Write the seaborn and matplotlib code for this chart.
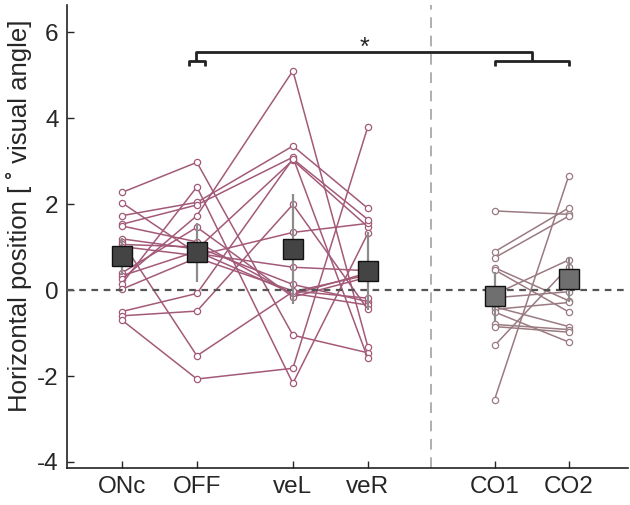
import matplotlib
matplotlib.use("Agg")
import matplotlib.pyplot as plt
import seaborn as sns
import pandas as pd

# conditions and per-subject values (deg visual angle)
conditions = ["ONc", "OFF", "veL", "veR", "CO1", "CO2"]
x_pos = [1, 2, 3.28, 4.28, 5.97, 6.96]

onc = [2.27, 2.03, 1.73, 1.53, 1.49, 1.19, 1.12, 1.06, 1.01, 0.40, 0.33, 0.25, 0.15, 0.02, -0.50, -0.60, -0.70]
off = [2.97, 0.85, 2.04, 1.98, 1.12, 0.95, -1.53, 1.00, 0.80, 1.46, 0.90, 1.73, 2.40, 0.75, -0.08, -0.49, -2.07]
vel = [-1.05, 0.53, 3.35, 3.09, -0.10, 3.02, -0.04, 0.13, 1.34, -0.16, -0.08, 5.10, -2.17, -0.02, 3.05, 1.99, -1.82]
ver = [-1.46, 0.45, 1.90, -1.59, 0.40, 1.47, 0.35, -0.27, 1.55, 0.30, -0.35, -1.32, 1.32, -0.19, 1.64, -0.45, 3.80]

co1 = [1.84, 0.89, 0.75, 0.52, 0.47, -0.10, -0.18, -0.39, -0.45, -0.51, -0.80, -0.85, -1.29, -2.55]
co2 = [1.76, 1.91, 1.72, -0.25, -0.51, 0.70, -0.04, -0.85, -0.29, -1.21, -0.92, -0.98, 0.54, 2.66]

# group means and error bar half-widths
means = [0.78, 0.88, 0.96, 0.45, -0.15, 0.25]
errs = [0.43, 0.69, 1.28, 0.91, 0.58, 0.52]

main_color = "#a35a78"
co_color = "#9a7b82"

rows = []
for vals, cond in zip([onc, off, vel, ver], conditions[:4]):
    for i, v in enumerate(vals):
        rows.append({"subject": i, "cond": cond, "value": v})
df_main = pd.DataFrame(rows)
rows = []
for vals, cond in zip([co1, co2], conditions[4:]):
    for i, v in enumerate(vals):
        rows.append({"subject": i, "cond": cond, "value": v})
df_co = pd.DataFrame(rows)
pos_map = dict(zip(conditions, x_pos))
df_main["x"] = df_main["cond"].map(pos_map)
df_co["x"] = df_co["cond"].map(pos_map)

sns.set_style("ticks")
plt.rcParams["font.family"] = ["Liberation Sans", "DejaVu Sans"]
plt.rcParams["axes.unicode_minus"] = False

fig = plt.figure(figsize=(6.3, 5.05), dpi=100)
ax = fig.add_axes([67 / 630, 37 / 505, 561 / 630, 463 / 505])

sns.lineplot(data=df_main, x="x", y="value", units="subject", estimator=None,
             color=main_color, lw=1.1, marker="o", markersize=4.5,
             markerfacecolor="white", markeredgecolor=main_color,
             markeredgewidth=0.9, sort=False, ax=ax, zorder=2)
sns.lineplot(data=df_co, x="x", y="value", units="subject", estimator=None,
             color=co_color, lw=1.1, marker="o", markersize=4.5,
             markerfacecolor="white", markeredgecolor=co_color,
             markeredgewidth=0.9, sort=False, ax=ax, zorder=2)

ax.axhline(0, color="#555555", ls=(0, (3, 2.5)), lw=1.6, zorder=3)
ax.axvline(5.12, color="#9a9a9a", ls=(0, (7, 5)), lw=1.1, zorder=1)

for i in range(6):
    face = "#444444" if i < 4 else "#6f6f6f"
    ax.errorbar(x_pos[i], means[i], yerr=errs[i], fmt="none",
                ecolor="#8c8c8c", elinewidth=1.6, capsize=0, zorder=4)
    ax.plot(x_pos[i], means[i], marker="s", markersize=14,
            markerfacecolor=face, markeredgecolor="#111111",
            markeredgewidth=1.0, zorder=5)

# significance brackets
bk = dict(color="#222222", lw=2, solid_capstyle="butt", clip_on=False)
ax.plot([1.89, 1.89, 2.11, 2.11], [5.22, 5.33, 5.33, 5.22], **bk)
ax.plot([1.99, 1.99, 6.47, 6.47], [5.33, 5.54, 5.54, 5.33], **bk)
ax.plot([5.97, 5.97, 6.96, 6.96], [5.22, 5.33, 5.33, 5.22], **bk)
ax.text(4.23, 5.63, "*", ha="center", va="center", fontsize=18)

ax.set_xlim(0.267, 7.75)
ax.set_ylim(-4.14, 6.63)
ax.set_xticks(x_pos)
ax.set_xticklabels(conditions)
ax.set_yticks([-4, -2, 0, 2, 4, 6])
ax.set_xlabel("")
ax.set_ylabel("Horizontal position [ ˚ visual angle]", fontsize=18.5)
ax.yaxis.set_label_coords(-0.062, 0.545)
ax.tick_params(direction="in", length=5, width=1, labelsize=17.5, pad=6)
sns.despine(ax=ax)
for s in ["left", "bottom"]:
    ax.spines[s].set_linewidth(1.2)
    ax.spines[s].set_color("#222222")

fig.savefig("out.png", dpi=100)
